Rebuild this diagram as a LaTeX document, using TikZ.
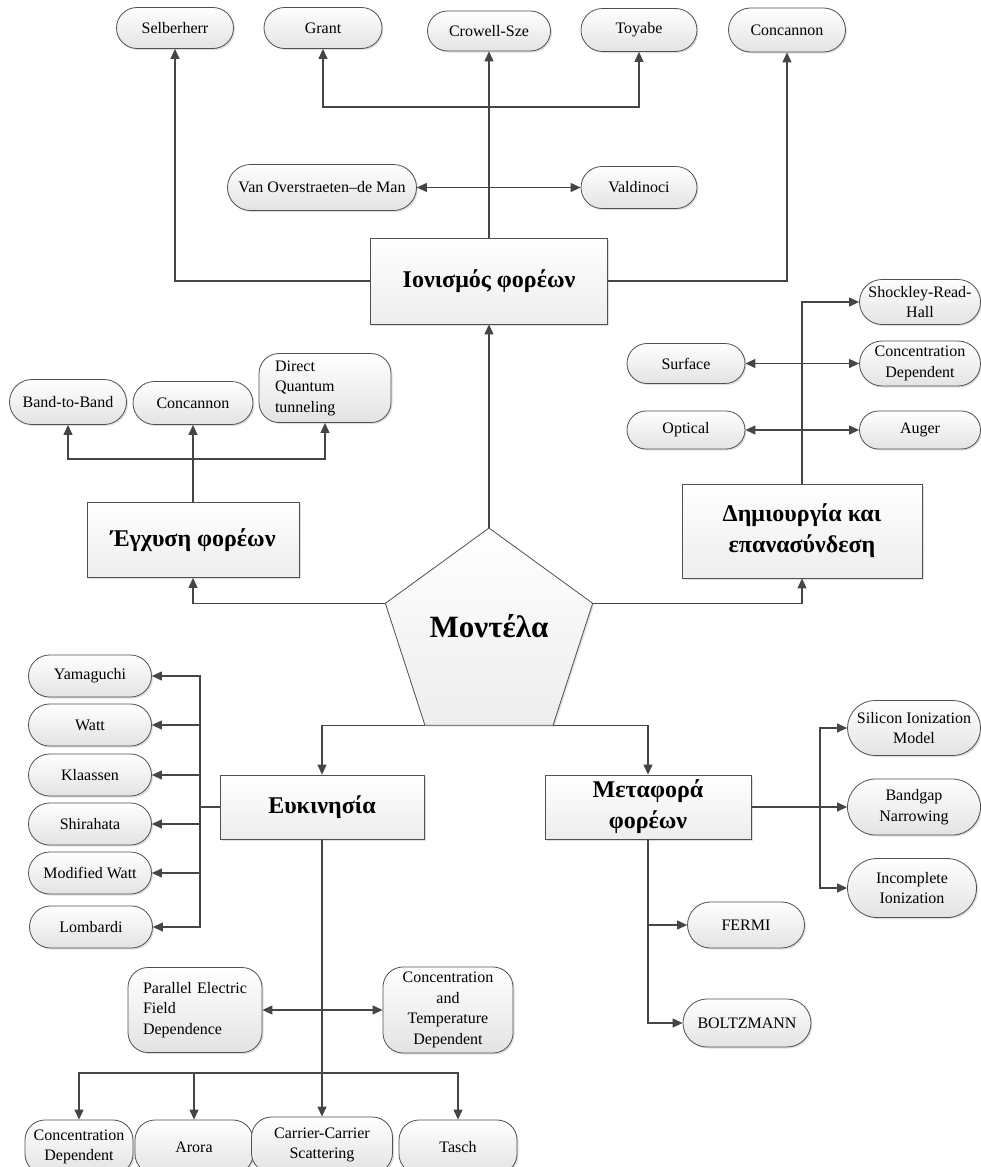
\documentclass[tikz,border=0pt]{standalone}
\usepackage{fontspec}
\setmainfont{Liberation Serif}
\usetikzlibrary{arrows.meta,shapes.geometric,shapes.misc,shadows}
\definecolor{lc}{HTML}{454545}
\definecolor{bc}{HTML}{505050}
\begin{document}
\begin{tikzpicture}[x=1pt,y=-1pt,
  line/.style={draw=lc, line width=1.1pt},
  arr/.style={line, -{Triangle[length=10pt,width=9pt]}},
  darr/.style={line, {Triangle[length=10pt,width=9pt]}-{Triangle[length=10pt,width=9pt]}},
  pbase/.style={draw=bc, line width=0.8pt, top color=white, bottom color=gray!22,
    drop shadow={opacity=0.25, shadow xshift=1.5pt, shadow yshift=-1.5pt},
    font=\fontsize{16}{20.5}\selectfont, inner sep=0pt, align=center},
  pill/.style={pbase, rounded rectangle},
  tpill/.style={pbase, rectangle, rounded corners=20pt},
  hbox/.style={draw=bc, line width=0.8pt, top color=white, bottom color=gray!14,
    drop shadow={opacity=0.25, shadow xshift=1.5pt, shadow yshift=-1.5pt},
    font=\fontsize{24}{31}\selectfont\bfseries, inner sep=0pt, align=center},
]
\useasboundingbox (0,0) rectangle (981,1167);

% ---- top group: Ionismos
\node[hbox, minimum width=237pt, minimum height=86pt] (ion) at (489,281) {Ιονισμός φορέων};
\node[pill, minimum width=117pt, minimum height=41pt] (sel) at (175,28) {Selberherr};
\node[pill, minimum width=118pt, minimum height=41pt] (gra) at (323,28) {Grant};
\node[pill, minimum width=123pt, minimum height=40pt] (cro) at (489,31) {Crowell-Sze};
\node[pill, minimum width=116pt, minimum height=43pt] (toy) at (639,30) {Toyabe};
\node[pill, minimum width=117pt, minimum height=44pt] (con1) at (787,30) {Concannon};
\node[pill, minimum width=189pt, minimum height=46pt] (van) at (322,187.5) {Van Overstraeten–de Man};
\node[pill, minimum width=116pt, minimum height=42pt] (val) at (639,187.5) {Valdinoci};
\coordinate (gt) at (489,107);

% ---- Egxysi
\node[hbox, minimum width=212pt, minimum height=75pt] (egx) at (193,540) {Έγχυση φορέων};
\node[pill, minimum width=117pt, minimum height=45pt] (btb) at (68,402) {Band-to-Band};
\node[pill, minimum width=120pt, minimum height=43pt] (con2) at (193,403) {Concannon};
\node[tpill, minimum width=132pt, minimum height=69pt, align=left, text width=100pt] (dqt) at (325,388) {Direct\\Quantum\\tunneling};
\coordinate (eg) at (193,459);

% ---- Dimiourgia
\node[hbox, minimum width=240pt, minimum height=94pt] (dim) at (802,531) {Δημιουργία και\\επανασύνδεση};
\node[pill, minimum width=121pt, minimum height=45pt] (srh) at (920,302) {Shockley-Read-\\Hall};
\node[pill, minimum width=118pt, minimum height=40pt] (sur) at (686,363.5) {Surface};
\node[pill, minimum width=121pt, minimum height=45pt] (cd1) at (920,363.5) {Concentration\\Dependent};
\node[pill, minimum width=118pt, minimum height=38pt] (opt) at (686,430) {Optical};
\node[pill, minimum width=121pt, minimum height=38pt] (aug) at (920,430) {Auger};

% ---- center pentagon
\node[draw=bc, line width=0.8pt, regular polygon, regular polygon sides=5, minimum size=218pt,
  inner sep=0pt, outer sep=0pt, top color=white, bottom color=gray!14,
  drop shadow={opacity=0.25, shadow xshift=1.5pt, shadow yshift=-1.5pt},
  font=\fontsize{31}{34}\selectfont\bfseries] (mont) at (489,637) {\raisebox{23pt}{Μοντέλα}};

% ---- Eukinisia
\node[hbox, minimum width=204pt, minimum height=64pt] (euk) at (322,807) {Ευκινησία};
\node[pill, minimum width=123pt, minimum height=42pt] (yam) at (90,676) {Yamaguchi};
\node[pill, minimum width=123pt, minimum height=42pt] (wat) at (90,725) {Watt};
\node[pill, minimum width=123pt, minimum height=42pt] (kla) at (90,775) {Klaassen};
\node[pill, minimum width=123pt, minimum height=42pt] (shi) at (90,824) {Shirahata};
\node[pill, minimum width=123pt, minimum height=42pt] (mwa) at (90,873) {Modified Watt};
\node[pill, minimum width=123pt, minimum height=42pt] (lom) at (91,927) {Lombardi};
\coordinate (eb) at (200,807);
\node[tpill, minimum width=134pt, minimum height=85pt, align=left, text width=104pt] (ped) at (195,1010) {Parallel Electric\\Field\\Dependence};
\node[tpill, minimum width=130pt, minimum height=86pt] (ctd) at (448,1010) {Concentration\\and\\Temperature\\Dependent};
\node[tpill, minimum width=108pt, minimum height=54pt] (cd2) at (79,1147) {Concentration\\Dependent};
\node[tpill, minimum width=118pt, minimum height=54pt] (aro) at (194,1147) {Arora};
\node[tpill, minimum width=141pt, minimum height=56pt] (ccs) at (322,1145) {Carrier-Carrier\\Scattering};
\node[tpill, minimum width=118pt, minimum height=54pt] (tas) at (458,1147) {Tasch};
\coordinate (bb) at (322,1073);

% ---- Metafora
\node[hbox, minimum width=206pt, minimum height=64pt] (met) at (648,807) {Μεταφορά\\φορέων};
\node[pill, minimum width=133pt, minimum height=55pt] (sim) at (914,728) {Silicon Ionization\\Model};
\node[pill, minimum width=133pt, minimum height=56pt] (bgn) at (914,807) {Bandgap\\Narrowing};
\node[pill, minimum width=129pt, minimum height=59pt] (inc) at (912,888) {Incomplete\\Ionization};
\node[pill, minimum width=117pt, minimum height=46pt] (fer) at (746,925) {FERMI};
\node[pill, minimum width=128pt, minimum height=48pt] (bol) at (747,1023) {BOLTZMANN};
\coordinate (mb) at (820,807);

% ---- connectors
\draw[arr] (ion.north) -- (cro.south);
\draw[arr] (gt) -| (gra.south);
\draw[arr] (gt) -| (toy.south);
\draw[darr] (van.east) -- (val.west);
\draw[arr] (ion.west) -| (sel.south);
\draw[arr] (ion.east) -| (con1.south);
\draw[arr] (mont.corner 1) -- (ion.south);

\draw[arr] (mont.corner 2) -| (egx.south);
\draw[arr] (egx.north) -- (con2.south);
\draw[arr] (eg) -| (btb.south);
\draw[arr] (eg) -| (dqt.south);

\draw[arr] (mont.corner 5) -| (dim.south);
\draw[arr] (dim.north) |- (srh.west);
\draw[darr] (sur.east) -- (cd1.west);
\draw[darr] (opt.east) -- (aug.west);

\draw[arr] (mont.corner 3) -| (euk.north);
\draw[line] (euk.west) -- (eb);
\draw[arr] (eb) |- (yam.east);
\draw[arr] (eb) |- (wat.east);
\draw[arr] (eb) |- (kla.east);
\draw[arr] (eb) |- (shi.east);
\draw[arr] (eb) |- (mwa.east);
\draw[arr] (eb) |- (lom.east);
\draw[arr] (euk.south) -- (ccs.north);
\draw[darr] (ped.east) -- (ctd.west);
\draw[arr] (bb) -| (cd2.north);
\draw[arr] (bb) -| (aro.north);
\draw[arr] (bb) -| (tas.north);

\draw[arr] (mont.corner 4) -| (met.north);
\draw[arr] (met.east) -- (bgn.west);
\draw[arr] (mb) |- (sim.west);
\draw[arr] (mb) |- (inc.west);
\draw[arr] (met.south) |- (fer.west);
\draw[arr] (met.south) |- (bol.west);
\end{tikzpicture}
\end{document}
